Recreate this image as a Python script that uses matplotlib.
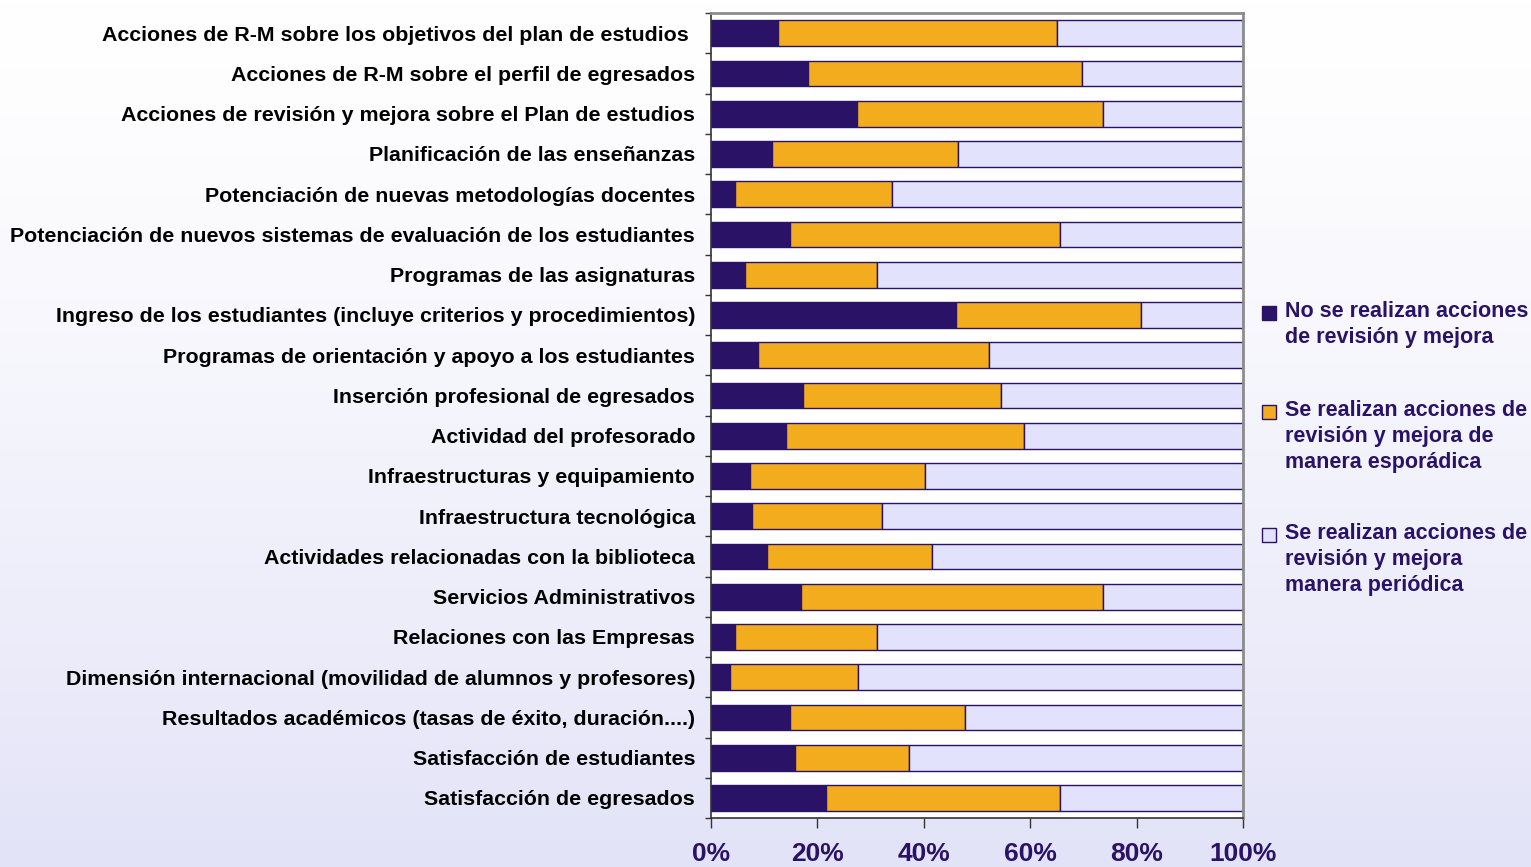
import numpy as np
import matplotlib.pyplot as plt
from matplotlib.patches import Rectangle

plt.rcParams['font.family'] = ['Liberation Sans', 'DejaVu Sans']
plt.rcParams['font.weight'] = 'bold'

categories = [
    "Acciones de R-M sobre los objetivos del plan de estudios ",
    "Acciones de R-M sobre el perfil de egresados",
    "Acciones de revisión y mejora sobre el Plan de estudios",
    "Planificación de las enseñanzas",
    "Potenciación de nuevas metodologías docentes",
    "Potenciación de nuevos sistemas de evaluación de los estudiantes",
    "Programas de las asignaturas",
    "Ingreso de los estudiantes (incluye criterios y procedimientos)",
    "Programas de orientación y apoyo a los estudiantes",
    "Inserción profesional de egresados",
    "Actividad del profesorado",
    "Infraestructuras y equipamiento",
    "Infraestructura tecnológica",
    "Actividades relacionadas con la biblioteca",
    "Servicios Administrativos",
    "Relaciones con las Empresas",
    "Dimensión internacional (movilidad de alumnos y profesores)",
    "Resultados académicos (tasas de éxito, duración....)",
    "Satisfacción de estudiantes",
    "Satisfacción de egresados",
]

# percentages per category
no_acciones = [12.6, 18.2, 27.4, 11.5, 4.5, 14.8, 6.4, 46.1, 8.8, 17.3,
               14.1, 7.3, 7.7, 10.5, 16.9, 4.5, 3.6, 14.8, 15.8, 21.6]
esporadica = [52.4, 51.5, 46.3, 34.9, 29.5, 50.8, 24.8, 34.7, 43.5, 37.2,
              44.7, 32.9, 24.4, 31.0, 56.8, 26.7, 24.0, 32.9, 21.4, 44.0]
periodica = [100 - a - b for a, b in zip(no_acciones, esporadica)]

series_labels = [
    "No se realizan acciones\nde revisión y mejora",
    "Se realizan acciones de\nrevisión y mejora de\nmanera esporádica",
    "Se realizan acciones de\nrevisión y mejora\nmanera periódica",
]
xticks = [0, 20, 40, 60, 80, 100]

dark = '#2A1266'
colors = [dark, '#F2AC1E', '#E2E2FC']

W, H = 1531, 867
fig = plt.figure(figsize=(W / 100, H / 100), dpi=100)

# background gradient, white at the top fading to lavender
bg = fig.add_axes([0, 0, 1, 1], zorder=-10)
grad = np.linspace(0, 1, 256).reshape(-1, 1)
top = np.array([1.0, 1.0, 1.0])
bottom = np.array([227, 227, 248]) / 255
img = top + (bottom - top) * grad[..., None] ** 1.3
bg.imshow(img, aspect='auto', extent=[0, 1, 0, 1], origin='upper')
bg.axis('off')

ax = fig.add_axes([0.4644, 0.0565, 0.3475, 0.9285])
ax.set_facecolor('white')

y = np.arange(len(categories))
left = np.zeros(len(categories))
for vals, col in zip([no_acciones, esporadica, periodica], colors):
    ax.barh(y, vals, left=left, height=0.64, color=col,
            edgecolor=dark, linewidth=1.0)
    left += np.array(vals)

ax.set_xlim(0, 100)
ax.set_ylim(len(categories) - 0.5, -0.5)

ax.set_yticks(y)
ax.set_yticklabels(categories, fontsize=15.4, color='black')
ax.set_yticks(np.arange(-0.5, len(categories)), minor=True)
ax.tick_params(axis='y', which='major', length=0, pad=11.5)
ax.tick_params(axis='y', which='minor', length=4, width=1, color='#333333')

ax.set_xticks(xticks)
ax.set_xticklabels([f"{t}%" for t in xticks], fontsize=19, color=dark)
ax.tick_params(axis='x', length=7, width=1, color='#333333', pad=10)

for s in ['top', 'right']:
    ax.spines[s].set_color('#8C8C8C')
    ax.spines[s].set_linewidth(2)
for s in ['left', 'bottom']:
    ax.spines[s].set_color('#333333')
    ax.spines[s].set_linewidth(1.2)

# legend: square marker beside the first line of each entry
legend_rows = [313, 412, 535]
for lab, col, yc in zip(series_labels, colors, legend_rows):
    fig.patches.append(Rectangle((1262 / W, 1 - (yc + 7) / H),
                                 14 / W, 14 / H, transform=fig.transFigure,
                                 facecolor=col, edgecolor=dark, linewidth=1))
    fig.text(1285 / W, 1 - (yc - 12) / H, lab, color=dark, fontsize=15.5,
             va='top', ha='left', linespacing=1.3)

fig.savefig('out.png', dpi=100)
